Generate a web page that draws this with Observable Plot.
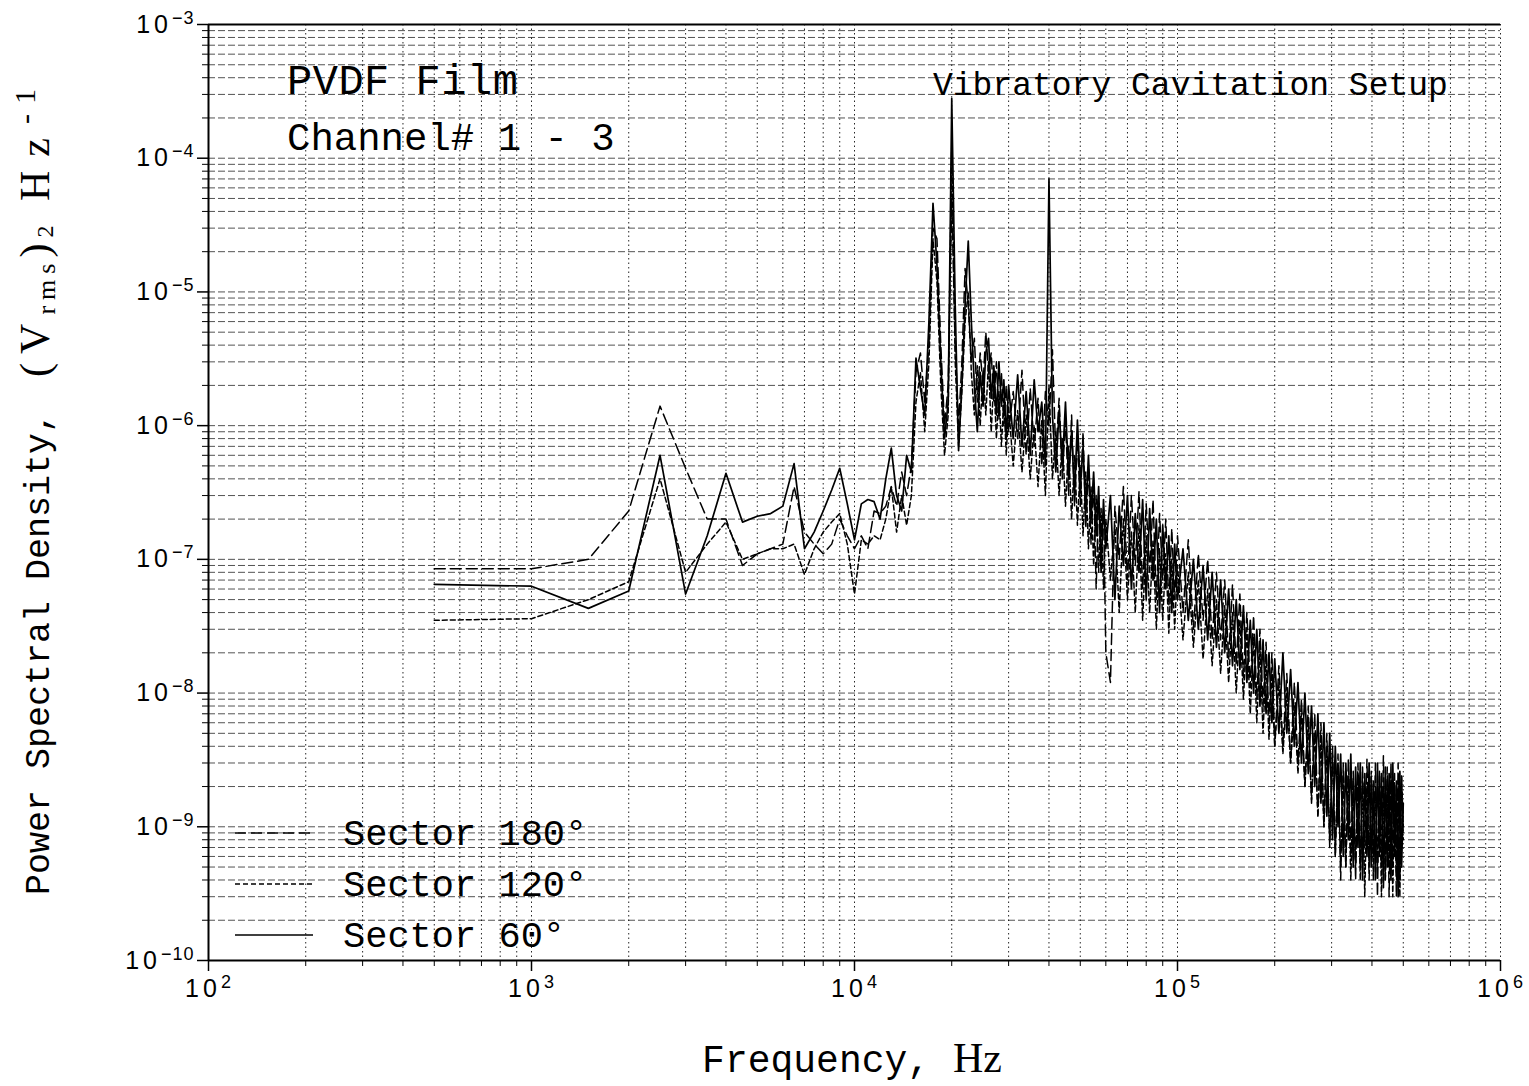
<!DOCTYPE html>
<html><head><meta charset="utf-8">
<script src="https://cdn.jsdelivr.net/npm/d3@7"></script>
<script src="https://cdn.jsdelivr.net/npm/@observablehq/plot@0.6"></script>
<style>
html,body{margin:0;padding:0;background:#fff;}
#chart{position:relative;width:1529px;height:1086px;}
</style></head><body><div id="chart"></div>
<script>
// ---------- frequency bins (Hz) ----------
const freqLow = [500,1000,1500,2000,2500,3000,3500,4000,4500,5000,5500,6000,6500,7000,7500,8000,8500,9000,9500,10000,10500,11000,11500,12000,12500,13000,13500,14000,14500,15000];
const freqPeak = [15500,16000,16500,17000,17500,18000,18500,19000,19500,20000,20500,21000,21500,22000,22500,23000,23500,24000,24500,25000,25500,26000,26500,27000,27500,28000,28500,29000,29500,30000];
const freqMid = [31000,32000,33000,34000,35000,36000,37000,38000,39000,40000,41000,42000,43000,44000,45000,46000,47000,48000,49000,50000,51000,52000,53000,54000,55000,56000,57000,58000,59000,60000];
const freqHigh1 = [62000,64000,66000,68000,70000,72000,74000,76000,78000,80000,82000,84000,86000,88000,90000,92000,94000,96000,98000,100000];
const freqHigh2 = [104000,108000,112000,116000,120000,124000,128000,132000,136000,140000,144000,148000,152000,156000,160000,164000,168000,172000,176000,180000,184000,188000,192000,196000,200000];
const freqHigh3 = [206000,212000,218000,224000,230000,236000,242000,248000,254000,260000,266000,272000,278000,284000,290000,296000,302000,308000,314000,320000,326000,332000,338000,344000,350000,356000,362000,368000,374000,380000,386000,392000,398000,404000,410000,416000,422000,428000,434000,440000,446000,452000,458000,464000,470000,476000,482000,488000,494000,500000];

// ---------- Sector 180° (dashed) ----------
const psd180Low = [8.5e-8,8.5e-8,1e-7,2.3e-7,1.4e-6,4.8e-7,2e-7,2e-7,9e-8,1.1e-7,1.2e-7,1.3e-7,3.5e-7,1.6e-7,1.3e-7,1.1e-7,1.3e-7,2e-7,1.5e-7,1.2e-7,1.5e-7,1.2e-7,2.3e-7,2.2e-7,2.5e-7,3.5e-7,2.5e-7,4.5e-7,3e-7,5e-7];
const psd180Peak = [2.5e-6,3.5e-6,1.5e-6,4e-6,3e-5,2.5e-5,4e-6,1e-6,2e-6,5e-5,4e-6,1e-6,3e-6,1.5e-5,8e-6,3e-6,4.5e-6,1.5e-6,3.5e-6,2e-6,5e-6,2.5e-6,3.5e-6,1.5e-6,3e-6,1.1e-6,2.5e-6,1e-6,2e-6,9e-7];
const psd180Mid = [1.8e-6,8e-7,2.6e-6,6e-7,1.9e-6,7e-7,1.6e-6,5e-7,1.8e-6,1e-6,3.7e-6,6e-7,1.6e-6,4e-7,1.1e-6,3e-7,1.2e-6,2.5e-7,8e-7,2.5e-7,9e-7,1.7e-7,5e-7,1.3e-7,4e-7,6e-8,3e-7,1.5e-7,2.4e-7,2e-8];
const psd180High1 = [1.2e-8,2.5e-7,1e-7,3.5e-7,7e-8,3e-7,9e-8,3.2e-7,6e-8,2.6e-7,8e-8,2.8e-7,5e-8,2.2e-7,7e-8,2e-7,4.5e-8,1.7e-7,5e-8,1.5e-7];
const psd180High2 = [4e-8,1.4e-7,3e-8,1.1e-7,3.5e-8,1e-7,2.5e-8,8e-8,2.5e-8,7e-8,1.8e-8,6.5e-8,1.6e-8,5.5e-8,1.3e-8,4e-8,1.1e-8,3.8e-8,9e-9,3e-8,8e-9,2.4e-8,6e-9,2e-8,4e-9];
const psd180High3 = [1.6e-8,4e-9,1.4e-8,3e-9,1.2e-8,3e-9,9e-9,2e-9,8e-9,1.5e-9,7e-9,1.2e-9,6e-9,1e-9,5e-9,7e-10,4e-9,6e-10,3.5e-9,4e-10,3e-9,5e-10,3.2e-9,6e-10,2.6e-9,4e-10,3e-9,5e-10,2.8e-9,7e-10,3.2e-9,4e-10,2.4e-9,6e-10,3e-9,3e-10,2.6e-9,5e-10,3.4e-9,4e-10,2.8e-9,3e-10,3e-9,5e-10,2.5e-9,3e-10,3e-9,4e-10,2.4e-9,8e-10];

// ---------- Sector 120° (short dashes) ----------
const psd120Low = [3.5e-8,3.6e-8,5e-8,6.8e-8,4e-7,8e-8,1.3e-7,1.9e-7,1e-7,1.1e-7,1.2e-7,1.2e-7,1.3e-7,7.7e-8,1.2e-7,1.6e-7,1.9e-7,2.2e-7,1.3e-7,5.5e-8,1.4e-7,1.3e-7,1.5e-7,1.4e-7,2e-7,3.5e-7,1.6e-7,3e-7,1.8e-7,3e-7];
const psd120Peak = [1.5e-6,2.5e-6,9e-7,3e-6,2.5e-5,1.2e-5,2e-6,6e-7,1.2e-6,1.2e-4,3e-6,7e-7,1.8e-6,6e-6,1e-5,2.5e-6,1.2e-6,2.8e-6,1e-6,2.6e-6,1.2e-6,3e-6,9e-7,2.2e-6,8e-7,1.8e-6,7e-7,1.6e-6,6e-7,1.4e-6];
const psd120Mid = [5e-7,1.3e-6,4.5e-7,1.2e-6,4e-7,1e-6,3.5e-7,1.1e-6,3e-7,2e-6,4e-7,9e-7,3e-7,8e-7,2.5e-7,7e-7,2e-7,6e-7,1.8e-7,5e-7,1.5e-7,4.5e-7,1.2e-7,3.5e-7,9e-8,3e-7,8e-8,2.4e-7,6e-8,2e-7];
const psd120High1 = [7e-8,1.8e-7,4e-8,2e-7,5e-8,1.6e-7,4e-8,1.8e-7,3.5e-8,1.5e-7,4e-8,1.4e-7,3e-8,1.2e-7,3.5e-8,1.1e-7,2.8e-8,1e-7,3e-8,9e-8];
const psd120High2 = [2.5e-8,8e-8,2.2e-8,7e-8,1.8e-8,6e-8,1.6e-8,5e-8,1.4e-8,4.5e-8,1.2e-8,4e-8,1e-8,3.5e-8,9e-9,3e-8,7e-9,2.6e-8,6e-9,2.2e-8,5e-9,1.8e-8,4.5e-9,1.5e-8,4e-9];
const psd120High3 = [1.2e-8,3.5e-9,1e-8,3e-9,8e-9,2.5e-9,7e-9,2e-9,6e-9,1.6e-9,5e-9,1.2e-9,4.5e-9,1e-9,4e-9,8e-10,3.5e-9,6e-10,3e-9,5e-10,2.6e-9,5e-10,2.4e-9,4e-10,2.2e-9,5e-10,2.5e-9,4e-10,2.2e-9,3e-10,2e-9,5e-10,2.6e-9,4e-10,2e-9,5e-10,2.4e-9,3e-10,2e-9,4e-10,2.2e-9,5e-10,2.4e-9,3e-10,2e-9,4.5e-10,2.2e-9,3e-10,2.4e-9,1e-9];

// ---------- Sector 60° (solid) ----------
const psd60Low = [6.5e-8,6.3e-8,4.3e-8,5.8e-8,6e-7,5.5e-8,1.5e-7,4.4e-7,1.9e-7,2.1e-7,2.2e-7,2.5e-7,5.2e-7,1.2e-7,1.6e-7,2.3e-7,3.3e-7,4.8e-7,2.6e-7,1.4e-7,2.6e-7,2.8e-7,2.7e-7,2e-7,4e-7,6.8e-7,3e-7,2.3e-7,6e-7,4.5e-7];
const psd60Peak = [3.2e-6,1.9e-6,1.2e-6,6e-6,4.6e-5,1.6e-5,3e-6,8e-7,1.5e-6,2.8e-4,8e-6,6.5e-7,2e-6,8e-6,2.4e-5,6e-6,2e-6,9e-7,2.5e-6,1.4e-6,3.5e-6,4.5e-6,1.6e-6,2.8e-6,1.2e-6,3e-6,1.4e-6,2.2e-6,8e-7,2e-6];
const psd60Mid = [8e-7,2.4e-6,7e-7,1.8e-6,6e-7,2.2e-6,9e-7,1.5e-6,5e-7,7e-5,1.2e-6,4.5e-7,1.3e-6,5e-7,1.5e-6,4e-7,9e-7,3e-7,1.1e-6,3.5e-7,7e-7,2.2e-7,6e-7,2e-7,4.5e-7,1.5e-7,3.5e-7,8e-8,2.8e-7,1.2e-7];
const psd60High1 = [3e-7,5e-8,2.5e-7,9e-8,3e-7,6e-8,2.2e-7,8e-8,2.8e-7,5e-8,2.4e-7,7e-8,2e-7,4e-8,1.8e-7,6e-8,1.5e-7,4e-8,1.3e-7,5e-8];
const psd60High2 = [1.2e-7,3.5e-8,1e-7,3e-8,9e-8,2.5e-8,8e-8,2.2e-8,7e-8,2e-8,6e-8,1.6e-8,5e-8,1.5e-8,4.5e-8,1.2e-8,3.5e-8,1e-8,3e-8,8e-9,2.5e-8,7e-9,2e-8,6e-9,1.8e-8];
const psd60High3 = [5e-9,2e-8,5e-9,1.5e-8,4e-9,1.2e-8,3e-9,1e-8,2.5e-9,8e-9,2e-9,7e-9,1.5e-9,6e-9,1.2e-9,5e-9,8e-10,4e-9,1e-9,3.5e-9,6e-10,3e-9,8e-10,3.5e-9,5e-10,2.8e-9,7e-10,3e-9,4e-10,2.5e-9,6e-10,3e-9,5e-10,2.2e-9,4e-10,3e-9,6e-10,2.5e-9,3.5e-10,2.8e-9,5e-10,2.5e-9,4e-10,3e-9,6e-10,2.2e-9,3e-10,2.6e-9,5e-10,1.5e-9];

// ---------- labels / ticks ----------
const seriesNames = ["Sector 180°", "Sector 120°", "Sector 60°"];
const xTickValues = [1e2, 1e3, 1e4, 1e5, 1e6];
const xTickExponents = ["2", "3", "4", "5", "6"];
const yTickValues = [1e-10, 1e-9, 1e-8, 1e-7, 1e-6, 1e-5, 1e-4, 1e-3];
const yTickExponents = ["−10", "−9", "−8", "−7", "−6", "−5", "−4", "−3"];
const titleLines = ["PVDF Film", "Channel# 1 - 3"];
const setupLabel = "Vibratory Cavitation Setup";
const xLabel = ["Frequency, ", "Hz"];

// ---------- assemble ----------
const freqAll = [...freqLow, ...freqPeak, ...freqMid, ...freqHigh1, ...freqHigh2, ...freqHigh3];
const psd180 = [...psd180Low, ...psd180Peak, ...psd180Mid, ...psd180High1, ...psd180High2, ...psd180High3];
const psd120 = [...psd120Low, ...psd120Peak, ...psd120Mid, ...psd120High1, ...psd120High2, ...psd120High3];
const psd60 = [...psd60Low, ...psd60Peak, ...psd60Mid, ...psd60High1, ...psd60High2, ...psd60High3];
const toRows = (vals, name) => freqAll.map((f, i) => ({f, v: vals[i], series: name}));
const rows180 = toRows(psd180, seriesNames[0]);
const rows120 = toRows(psd120, seriesNames[1]);
const rows60 = toRows(psd60, seriesNames[2]);

const dashes = ["11,5", "5,3", null];
const xGrid = d3.scaleLog().domain([1e2, 1e6]).ticks();
const yGrid = d3.scaleLog().domain([1e-10, 1e-3]).ticks();
const xMinor = xGrid.filter(d => !xTickValues.includes(d));
const yMinor = yGrid.filter(d => !yTickValues.some(t => Math.abs(t - d) / t < 1e-6));

const chart = Plot.plot({
  width: 1529, height: 1086,
  marginLeft: 208, marginRight: 29, marginTop: 24, marginBottom: 126,
  style: {fontFamily: "'Liberation Sans', Arial, sans-serif", fontSize: "22px", background: "white", color: "black", overflow: "visible"},
  x: {type: "log", domain: [1e2, 1e6], label: null},
  y: {type: "log", domain: [1e-10, 1e-3], label: null},
  marks: [
    Plot.ruleY(yGrid, {stroke: "#000", strokeOpacity: 0.68, strokeWidth: 1, strokeDasharray: "7,3"}),
    Plot.ruleX(xGrid, {stroke: "#000", strokeOpacity: 0.85, strokeWidth: 1, strokeDasharray: "1.5,3"}),
    Plot.ruleY([1e-10, 1e-3], {stroke: "#000", strokeWidth: 2}),
    Plot.ruleX([1e2], {stroke: "#000", strokeWidth: 2}),
    Plot.line(rows120, {x: "f", y: "v", stroke: "#000", strokeWidth: 1.5, strokeDasharray: dashes[1]}),
    Plot.line(rows180, {x: "f", y: "v", stroke: "#000", strokeWidth: 1.5, strokeDasharray: dashes[0]}),
    Plot.line(rows60, {x: "f", y: "v", stroke: "#000", strokeWidth: 1.7}),
    Plot.axisX({ticks: xTickValues, tickSize: 11, tickPadding: 8, strokeWidth: 1.5, tickFormat: d => "10^" + xTickExponents[xTickValues.indexOf(d)]}),
    Plot.axisX({ticks: xMinor, tickSize: 6, tickFormat: () => ""}),
    Plot.axisY({ticks: yTickValues, tickSize: 11, tickPadding: 3, strokeWidth: 1.5, tickFormat: d => "10^" + yTickExponents[yTickValues.findIndex(t => Math.abs(t - d) / t < 1e-6)]}),
    Plot.axisY({ticks: yMinor, tickSize: 6, tickFormat: () => ""})
  ]
});
document.getElementById("chart").appendChild(chart);

const svg = d3.select(chart);
// superscript exponents on tick labels
svg.selectAll("text").each(function() {
  const t = this.textContent;
  if (/^10\^/.test(t)) {
    const exp = t.split("^")[1];
    const sel = d3.select(this);
    sel.text("").style("font-size", "25px").attr("font-family", "'Liberation Sans', Arial, sans-serif");
    sel.append("tspan").attr("letter-spacing", 4).text("10");
    sel.append("tspan").attr("dy", "-0.5em").style("font-size", "18px").attr("letter-spacing", 1).text(exp);
  }
});

const mono = "'Liberation Mono', 'Courier New', monospace";
const serif = "'Liberation Serif', 'Times New Roman', serif";
const ann = svg.append("g").attr("fill", "#000").attr("text-anchor", "start");
ann.append("text").attr("text-anchor", "start").attr("x", 287).attr("y", 94).attr("font-family", mono).attr("font-size", 42).attr("letter-spacing", 0.5).text(titleLines[0]);
ann.append("text").attr("text-anchor", "start").attr("x", 287).attr("y", 150).attr("font-family", mono).attr("font-size", 39).text(titleLines[1]);
ann.append("text").attr("text-anchor", "start").attr("x", 933).attr("y", 95).attr("font-family", mono).attr("font-size", 33).text(setupLabel);

// legend
const legY = [833, 884, 935];
seriesNames.forEach((name, i) => {
  ann.append("line").attr("x1", 235).attr("x2", 313).attr("y1", legY[i]).attr("y2", legY[i])
    .attr("stroke", "#000").attr("stroke-width", 1.6).attr("stroke-dasharray", dashes[i]);
  ann.append("text").attr("text-anchor", "start").attr("x", 343).attr("y", legY[i] + 12).attr("font-family", mono).attr("font-size", 37).text(name);
});

// x axis label
const xl = ann.append("text").attr("x", 852).attr("y", 1072).attr("text-anchor", "middle").attr("font-family", mono).attr("font-size", 38);
xl.append("tspan").text(xLabel[0]);
xl.append("tspan").attr("font-family", serif).attr("font-size", 42).text(xLabel[1]);

// y axis label
const yl = ann.append("text").attr("text-anchor", "start").attr("transform", "translate(49,895) rotate(-90)").attr("font-family", mono).attr("font-size", 35);
yl.append("tspan").text("Power Spectral Density, ");
yl.append("tspan").attr("font-family", serif).attr("font-size", 42).attr("letter-spacing", 9).attr("dx", 14).text("(V");
yl.append("tspan").attr("font-family", serif).attr("font-size", 26).attr("letter-spacing", 6).attr("dy", 6).text("rms");
yl.append("tspan").attr("font-family", serif).attr("font-size", 42).attr("letter-spacing", 6).attr("dy", -6).text(")");
yl.append("tspan").attr("font-family", serif).attr("font-size", 24).attr("dy", 4).text("2");
yl.append("tspan").attr("font-family", serif).attr("font-size", 42).attr("letter-spacing", 14).attr("dy", -4).text(" Hz");
yl.append("tspan").attr("font-family", serif).attr("font-size", 30).attr("letter-spacing", 10).attr("dy", -14).text("-1");
</script></body></html>
